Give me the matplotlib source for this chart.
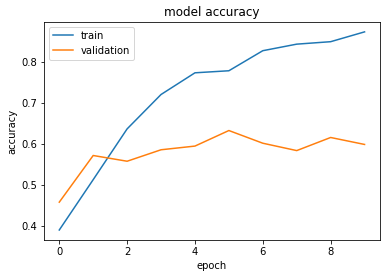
import matplotlib
matplotlib.use("Agg")
import matplotlib.pyplot as plt

epochs = list(range(10))
train_acc = [0.389, 0.512, 0.636, 0.720, 0.773, 0.778, 0.827, 0.843, 0.849, 0.873]
val_acc = [0.457, 0.571, 0.557, 0.585, 0.594, 0.632, 0.601, 0.583, 0.615, 0.598]

fig = plt.figure(figsize=(386 / 72, 278 / 72), dpi=72)
plt.subplots_adjust(left=0.114, right=0.984, top=0.921, bottom=0.137)

plt.plot(epochs, train_acc)
plt.plot(epochs, val_acc)
plt.title("model accuracy")
plt.ylabel("accuracy")
plt.xlabel("epoch")
plt.legend(["train", "validation"], loc="upper left")

plt.savefig("out.png", dpi=72)
plt.close()
